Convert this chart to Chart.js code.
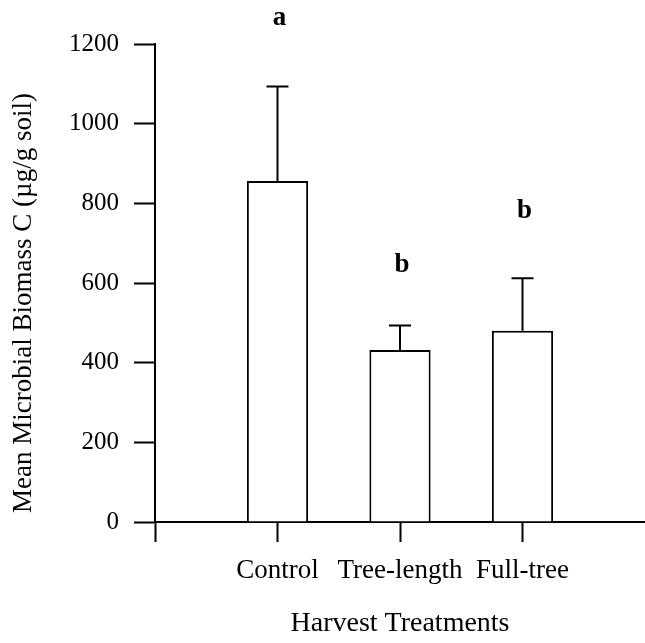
<!DOCTYPE html>
<html>
<head>
<meta charset="utf-8">
<script src="https://cdn.jsdelivr.net/npm/chart.js@4/dist/chart.umd.min.js"></script>
<style>
  html, body { margin: 0; padding: 0; background: #fff; }
  #wrap { width: 645px; height: 643px; }
</style>
</head>
<body>
<div id="wrap"><canvas id="chart"></canvas></div>
<script>
// chart data
const treatments = ['Control', 'Tree-length', 'Full-tree'];
const meanBiomass = [856, 432, 480];
const upperError = [1093, 493, 612];   // top of the error whisker
const letters = ['a', 'b', 'b'];
const letterLevel = [1265, 645, 781];
const yTicks = [0, 200, 400, 600, 800, 1000, 1200];
const yTitle = 'Mean Microbial Biomass C (µg/g soil)';

const serif = "'Liberation Serif', 'Times New Roman', serif";

// draws the whiskers, the significance letters and the y title
const extras = {
  id: 'extras',
  afterDatasetsDraw(chart) {
    const ctx = chart.ctx;
    const xs = chart.scales.x;
    const ys = chart.scales.y;
    ctx.save();
    ctx.strokeStyle = '#000';
    ctx.lineWidth = 2;
    upperError.forEach((v, i) => {
      const px = xs.getPixelForValue(i + 1);
      const top = ys.getPixelForValue(v);
      const bot = ys.getPixelForValue(meanBiomass[i]);
      ctx.beginPath();
      ctx.moveTo(px, bot);
      ctx.lineTo(px, top);
      ctx.moveTo(px - 11, top);
      ctx.lineTo(px + 11, top);
      ctx.stroke();
    });
    ctx.fillStyle = '#000';
    ctx.font = 'bold 27px ' + serif;
    ctx.textAlign = 'center';
    ctx.textBaseline = 'middle';
    letters.forEach((t, i) => {
      ctx.fillText(t, xs.getPixelForValue(i + 1) + 2, ys.getPixelForValue(letterLevel[i]));
    });

    // y title, a bit below the middle of the axis as in the original
    ctx.font = '27px ' + serif;
    ctx.translate(24, 303);
    ctx.rotate(-Math.PI / 2);
    ctx.fillText(yTitle, 0, 0);
    ctx.restore();
  }
};

new Chart(document.querySelector('#chart'), {
  type: 'bar',
  data: {
    datasets: [{
      data: treatments.map((t, i) => ({ x: i + 1, y: meanBiomass[i] })),
      backgroundColor: '#fff',
      borderColor: '#000',
      borderWidth: 2,
      barPercentage: 0.5,
      categoryPercentage: 1.0
    }]
  },
  options: {
    responsive: true,
    maintainAspectRatio: false,
    animation: false,
    layout: { padding: { top: 44, right: 0, bottom: 0, left: 0 } },
    plugins: {
      legend: { display: false },
      tooltip: { enabled: false }
    },
    scales: {
      x: {
        type: 'linear',
        offset: false,
        min: 0,
        max: 4,
        afterBuildTicks: scale => {
          scale.ticks = [0, 1, 2, 3].map(v => ({ value: v }));
        },
        afterFit: scale => { scale.height = 121; },
        border: { display: true, color: '#000', width: 2 },
        grid: {
          offset: false,
          drawOnChartArea: false,
          drawTicks: true,
          tickLength: 20,
          tickWidth: 2,
          tickColor: '#000'
        },
        ticks: {
          autoSkip: false,
          maxRotation: 0,
          padding: 13,
          color: '#000',
          font: { family: serif, size: 27 },
          callback: v => (v >= 1 && v <= 3) ? treatments[v - 1] : ''
        },
        title: {
          display: true,
          text: 'Harvest Treatments',
          color: '#000',
          font: { family: serif, size: 28 },
          padding: { top: 0, bottom: 3 }
        }
      },
      y: {
        min: 0,
        max: 1200,
        afterBuildTicks: scale => {
          scale.ticks = yTicks.map(v => ({ value: v }));
        },
        afterFit: scale => { scale.width = 155; },
        border: { display: true, color: '#000', width: 2 },
        grid: {
          drawOnChartArea: false,
          drawTicks: true,
          tickLength: 21,
          tickWidth: 2,
          tickColor: '#000'
        },
        ticks: {
          padding: 15,
          color: '#000',
          font: { family: serif, size: 25 },
          callback: v => String(v)
        },
        title: { display: false }
      }
    }
  },
  plugins: [extras]
});
</script>
</body>
</html>
